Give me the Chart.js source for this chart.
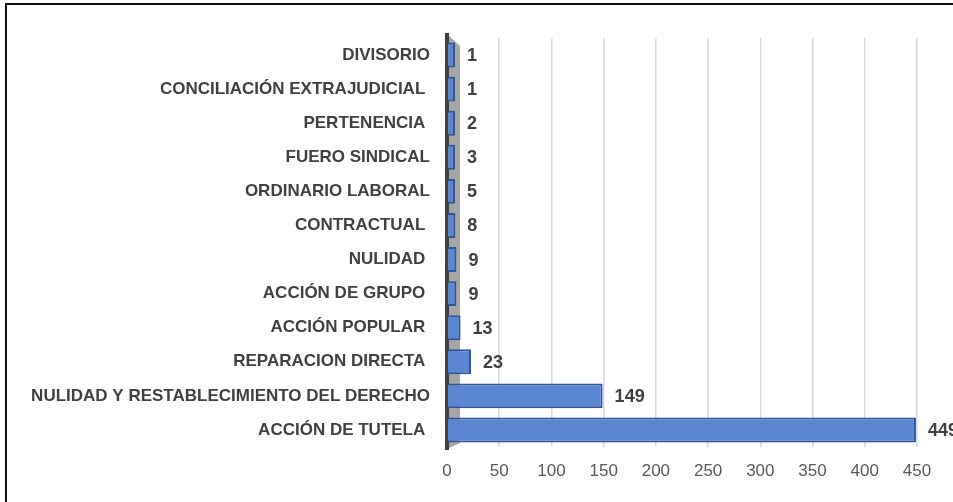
<!DOCTYPE html>
<html>
<head>
<meta charset="utf-8">
<script src="https://cdn.jsdelivr.net/npm/chart.js@4/dist/chart.umd.min.js"></script>
<style>
  html, body { margin: 0; padding: 0; background: #fff; }
  #wrap { position: relative; width: 953px; height: 502px; overflow: hidden; }
  #frame { position: absolute; left: 5px; top: 3px; width: 1200px; height: 800px;
           border-left: 2px solid #111; border-top: 2px solid #111; box-sizing: border-box; }
  canvas { position: absolute; left: 0; top: 0; }
</style>
</head>
<body>
<div id="wrap">
  <div id="frame"></div>
  <canvas id="c" width="953" height="502"></canvas>
</div>
<script>
const categories = [
  "DIVISORIO",
  "CONCILIACIÓN EXTRAJUDICIAL ",
  "PERTENENCIA ",
  "FUERO SINDICAL",
  "ORDINARIO LABORAL",
  "CONTRACTUAL ",
  "NULIDAD ",
  "ACCIÓN DE GRUPO ",
  "ACCIÓN POPULAR ",
  "REPARACION DIRECTA ",
  "NULIDAD Y RESTABLECIMIENTO DEL DERECHO",
  "ACCIÓN DE TUTELA "
];
const values = [1, 1, 2, 3, 5, 8, 9, 9, 13, 23, 149, 449];
const xTicks = [0, 50, 100, 150, 200, 250, 300, 350, 400, 450];

const FONT = "'Liberation Sans', Arial, sans-serif";

const wallPlugin = {
  id: 'wall',
  beforeDatasetsDraw(chart) {
    const { ctx, chartArea } = chart;
    const x0 = chartArea.left;
    ctx.save();
    ctx.fillStyle = '#A6A6A6';
    ctx.beginPath();
    ctx.moveTo(x0, chartArea.top - 4);
    ctx.lineTo(x0 + 13, chartArea.top + 8);
    ctx.lineTo(x0 + 13, chartArea.bottom - 4);
    ctx.lineTo(x0, chartArea.bottom + 2);
    ctx.closePath();
    ctx.fill();
    ctx.strokeStyle = '#404040';
    ctx.lineWidth = 4;
    ctx.beginPath();
    ctx.moveTo(x0, chartArea.top - 5);
    ctx.lineTo(x0, chartArea.bottom + 3);
    ctx.stroke();
    ctx.restore();
  }
};

const labelPlugin = {
  id: 'vals',
  afterDatasetsDraw(chart) {
    const { ctx } = chart;
    const meta = chart.getDatasetMeta(0);
    ctx.save();
    ctx.font = "bold 18px " + FONT;
    ctx.fillStyle = '#404040';
    ctx.textAlign = 'left';
    ctx.textBaseline = 'middle';
    meta.data.forEach((el, i) => {
      ctx.fillText(String(values[i]), el.x + 12, el.y + 1);
    });
    ctx.restore();
  }
};

new Chart(document.getElementById('c'), {
  type: 'bar',
  data: {
    labels: categories,
    datasets: [{
      data: values,
      backgroundColor: '#5B87D2',
      borderColor: '#2F5597',
      borderWidth: 2,
      borderSkipped: 'left',
      minBarLength: 8,
      categoryPercentage: 1,
      barPercentage: 0.73
    }]
  },
  options: {
    indexAxis: 'y',
    responsive: false,
    animation: false,
    layout: { padding: { top: 38, right: 36, bottom: 22, left: 0 } },
    plugins: { legend: { display: false }, tooltip: { enabled: false } },
    scales: {
      x: {
        min: 0, max: 450,
        afterBuildTicks(scale) { scale.ticks = xTicks.map(v => ({ value: v })); },
        afterFit(scale) { scale.height = 33; },
        grid: { color: '#D9D9D9', lineWidth: 1.5, drawTicks: false },
        border: { display: false },
        ticks: { padding: 14, color: '#595959', maxRotation: 0, font: { family: FONT, size: 17 } }
      },
      y: {
        afterFit(scale) { scale.width = 447; },
        grid: { display: false, drawTicks: false },
        border: { display: false },
        ticks: { padding: 17, color: '#404040', font: { family: FONT, size: 17, weight: 'bold' } }
      }
    }
  },
  plugins: [wallPlugin, labelPlugin]
});
</script>
</body>
</html>
